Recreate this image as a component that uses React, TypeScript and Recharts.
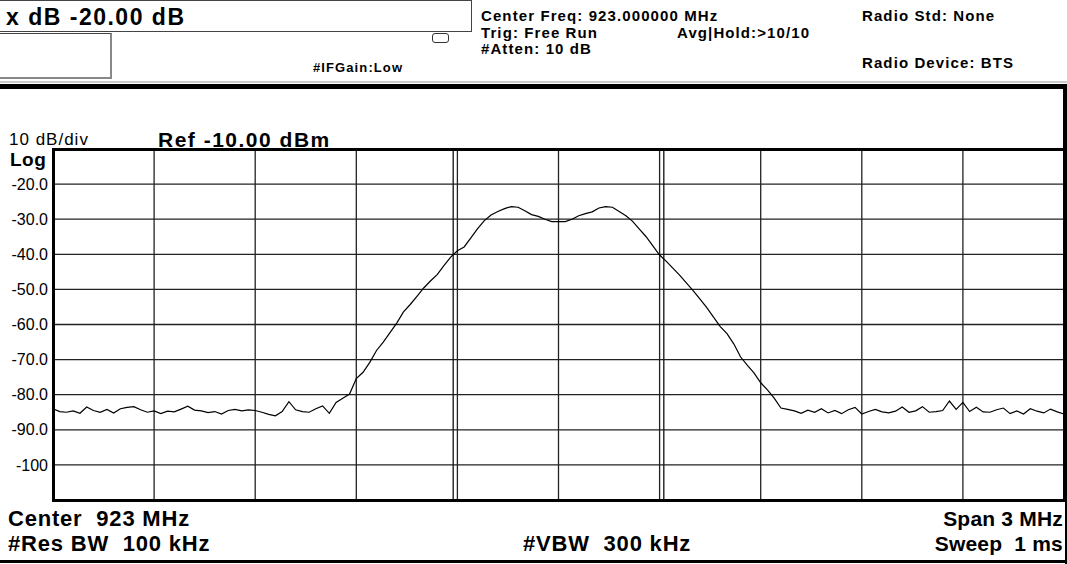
import React from "react"
import { LineChart, Line, XAxis, YAxis, ReferenceLine } from "recharts"

// sweep: 921.5 .. 924.5 MHz, 151 points (0.02 MHz step)
const startFreq = 921.5
const stepFreq = 0.02

// trace amplitude in dBm
const traceDbm = [
  -84.0, -84.8, -85.0, -84.6, -85.3, -83.5, -84.5, -85.0, -84.2, -85.2,
  -84.0, -83.6, -83.4, -84.3, -85.0, -84.6, -85.4, -84.7, -84.9, -84.1,
  -83.3, -84.4, -84.6, -85.1, -84.8, -85.5, -84.5, -84.2, -84.6, -84.3,
  -84.5, -85.0, -85.6, -86.0, -84.8, -82.0, -84.3, -84.8, -85.0, -84.0,
  -83.2, -85.3, -82.2, -81.0, -79.8, -75.4, -73.6, -70.8, -67.4, -65.0,
  -62.3, -59.6, -56.4, -54.3, -52.0, -49.6, -47.6, -45.8, -43.2, -40.8,
  -39.0, -37.9, -35.3, -32.7, -30.4, -28.8, -27.8, -27.0, -26.4, -26.6,
  -27.6, -28.7, -29.2, -30.0, -30.7, -30.7, -30.7, -30.0, -29.0, -28.4,
  -27.9, -26.8, -26.4, -26.6, -27.8, -29.0, -30.6, -32.8, -35.0, -37.6,
  -40.2, -42.0, -44.0, -46.0, -48.2, -50.4, -52.8, -55.2, -57.9, -60.6,
  -62.6, -65.5, -69.2, -71.6, -73.8, -76.6, -78.6, -81.0, -83.8, -84.2,
  -84.6, -85.3, -84.4, -85.0, -84.0, -85.2, -84.5, -85.4, -84.3, -83.6,
  -85.5, -84.8, -84.2, -84.9, -85.2, -84.7, -83.5, -85.0, -84.6, -83.4,
  -85.0, -84.8, -84.5, -81.8, -84.2, -82.2, -84.8, -83.6, -84.9, -85.0,
  -84.3, -83.8, -85.4, -84.6, -85.5, -84.0, -84.7, -85.2, -84.1, -84.9,
  -85.5,
]

const yTicks = [-20, -30, -40, -50, -60, -70, -80, -90, -100]
const xGrid = [921.8, 922.1, 922.4, 922.7, 923.0, 923.3, 923.6, 923.9, 924.2]
const markers = [922.6875, 923.3125]

const data = traceDbm.map((v, i) => ({ freq: +(startFreq + i * stepFreq).toFixed(3), dbm: v }))

const font = "'Liberation Sans', Arial, sans-serif"

const txt = (style: React.CSSProperties, s: string, bold = true) => (
  <div style={{ position: "absolute", whiteSpace: "pre", fontFamily: font, fontWeight: bold ? "bold" : "normal", lineHeight: 1, ...style }}>
    {s}
  </div>
)

const hdr = { fontSize: 15, letterSpacing: 1.1 }
const ftr = { fontSize: 22, letterSpacing: 0.8 }
const ftrRight = { fontSize: 21, letterSpacing: 0.2 }

export default function App() {
  return (
    <div style={{ position: "fixed", left: 0, top: 0, width: 1067, height: 564, background: "#fff", overflow: "hidden" }}>
      {/* header */}
      <div style={{ position: "absolute", left: -2, top: 0, width: 472, height: 30, border: "1px solid #444" }} />
      <div style={{ position: "absolute", left: -2, top: 33, width: 111, height: 43, border: "1px solid #444", borderRight: "2px solid #888", borderBottom: "2px solid #888" }} />
      <div style={{ position: "absolute", left: 432, top: 33, width: 15, height: 8, border: "1px solid #333", borderRadius: 3 }} />
      {txt({ left: 6, top: 6, fontSize: 23, letterSpacing: 1.5 }, "x dB -20.00 dB")}
      {txt({ left: 313, top: 61, fontSize: 13, letterSpacing: 1.1 }, "#IFGain:Low")}
      {txt({ left: 481, top: 8, ...hdr }, "Center Freq: 923.000000 MHz")}
      {txt({ left: 481, top: 25, ...hdr }, "Trig: Free Run")}
      {txt({ left: 677, top: 25, ...hdr }, "Avg|Hold:>10/10")}
      {txt({ left: 481, top: 41, ...hdr }, "#Atten: 10 dB")}
      {txt({ left: 862, top: 8, ...hdr }, "Radio Std: None")}
      {txt({ left: 862, top: 55, ...hdr }, "Radio Device: BTS")}
      <div style={{ position: "absolute", left: 0, top: 81, width: 1067, height: 2, background: "#ccc" }} />
      <div style={{ position: "absolute", left: 0, top: 84, width: 1067, height: 5, background: "#000" }} />
      <div style={{ position: "absolute", left: 1063, top: 84, width: 4, height: 68, background: "#000" }} />
      <div style={{ position: "absolute", left: 1065, top: 150, width: 2, height: 414, background: "#000" }} />
      <div style={{ position: "absolute", left: 0, top: 560, width: 1067, height: 3, background: "#000" }} />

      {txt({ left: 9, top: 131, fontSize: 17, letterSpacing: 1 }, "10 dB/div", false)}
      {txt({ left: 158, top: 129, fontSize: 21, letterSpacing: 1.5 }, "Ref -10.00 dBm")}
      {txt({ left: 10, top: 150, fontSize: 19, letterSpacing: 0.5 }, "Log")}

      <LineChart
        width={1067}
        height={564}
        data={data}
        margin={{ top: 149, right: 3, bottom: 64, left: 0 }}
        style={{ position: "absolute", left: 0, top: 0 }}
      >
        <XAxis dataKey="freq" type="number" domain={[921.5, 924.5]} hide />
        <YAxis
          type="number"
          domain={[-110, -10]}
          ticks={yTicks}
          width={53}
          axisLine={false}
          tickLine={false}
          tickSize={0}
          tickMargin={5}
          tickFormatter={(v: number) => (v <= -100 ? String(v) : v.toFixed(1))}
          tick={{ fill: "#000", fontSize: 16, fontFamily: font }}
        />
        {yTicks.map((t) => (
          <ReferenceLine key={"h" + t} y={t} stroke="#222" strokeWidth={1.3} />
        ))}
        {xGrid.map((f) => (
          <ReferenceLine key={"v" + f} x={f} stroke="#222" strokeWidth={1.3} />
        ))}
        {markers.map((f) => (
          <ReferenceLine key={"m" + f} x={f} stroke="#111" strokeWidth={1.3} />
        ))}
        <Line
          type="linear"
          dataKey="dbm"
          stroke="#000"
          strokeWidth={1.2}
          dot={false}
          isAnimationActive={false}
        />
      </LineChart>
      <div style={{ position: "absolute", left: 52, top: 148, width: 1008, height: 348, border: "3px solid #000", pointerEvents: "none" }} />

      {/* footer */}
      {txt({ left: 8, top: 508, ...ftr }, "Center  923 MHz")}
      {txt({ left: 8, top: 533, ...ftr }, "#Res BW  100 kHz")}
      {txt({ left: 523, top: 533, ...ftr }, "#VBW  300 kHz")}
      {txt({ right: 4, top: 508, ...ftrRight }, "Span 3 MHz")}
      {txt({ right: 4, top: 533, ...ftrRight }, "Sweep  1 ms")}
    </div>
  )
}
